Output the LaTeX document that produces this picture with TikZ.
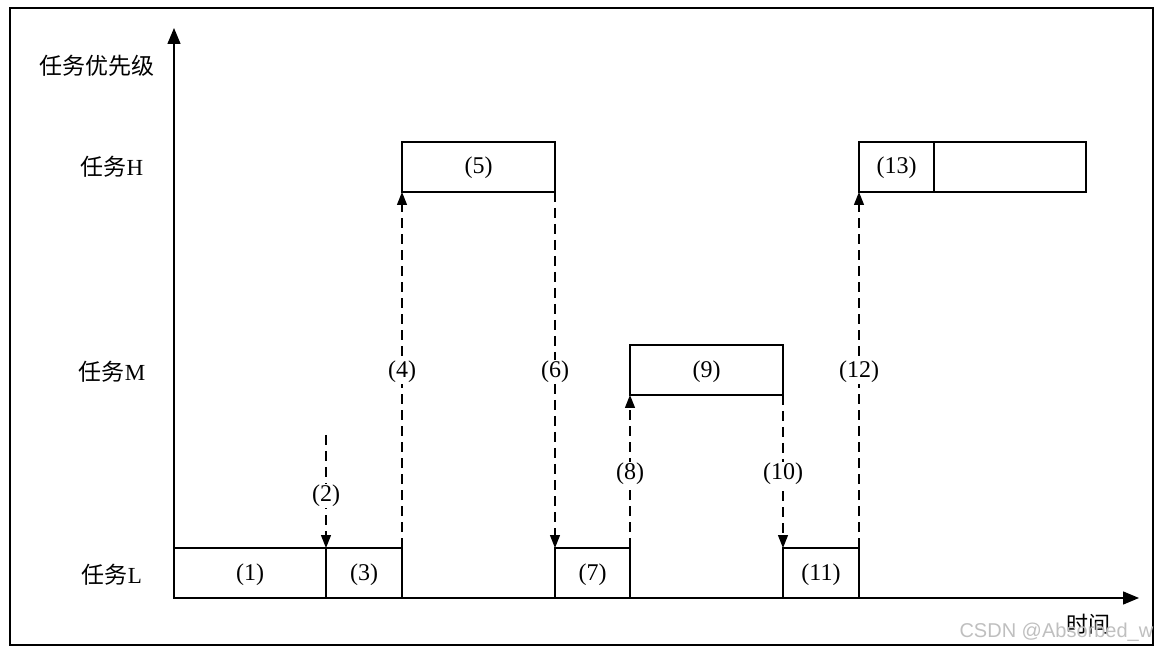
\documentclass[tikz,border=0pt]{standalone}
\usepackage{fontspec}
\setmainfont{Liberation Serif}
\newfontfamily\cjk{Noto Sans CJK SC}
\newfontfamily\wmfont{Liberation Sans}
\usetikzlibrary{arrows.meta}
\begin{document}
\begin{tikzpicture}[x=1pt,y=-1pt,
  tbox/.style={draw, line width=1.4pt, minimum height=50pt, inner sep=0pt, outer sep=0pt},
  blbl/.style={font=\fontsize{24}{26}\selectfont, inner sep=0pt},
  darr/.style={line width=1.3pt, dash pattern=on 10pt off 6pt, -{Triangle[length=13pt,width=10pt]}},
  lbl/.style={fill=white, inner sep=1pt, yshift=-2pt, font=\fontsize{24}{26}\selectfont},
  ylab/.style={font=\fontsize{23}{26}\selectfont, anchor=center},
  axarr/.style={line width=1.5pt, -{Triangle[length=16pt,width=13pt]}}]
\useasboundingbox (0,0) rectangle (1163,652);
\clip (0,0) rectangle (1163,652);
\draw[line width=2pt] (10,8) rectangle (1153,645);
% axes
\coordinate (O) at (174,598);
\coordinate (ytop) at (174,28);
\coordinate (xend) at (1139,598);
\draw[axarr] (O) -- (ytop);
\draw[axarr] (O) -- (xend);
% axis labels
\node[ylab] (lp) at (97,66) {\cjk 任务优先级};
\node[ylab] (lh) at (112,167) {{\cjk 任务}H};
\node[ylab] (lm) at (112,372) {{\cjk 任务}M};
\node[ylab] (ll) at (112,575) {{\cjk 任务}L};
\node[font=\fontsize{22}{24}\selectfont] (lt) at (1088,624) {\cjk 时间};
% boxes
\node[tbox, minimum width=152pt] (b1) at (250,573) {};
\node[tbox, minimum width=76pt] (b3) at (364,573) {};
\node[tbox, minimum width=75pt] (b7) at (592.5,573) {};
\node[tbox, minimum width=76pt] (b11) at (821,573) {};
\node[tbox, minimum width=153pt] (b5) at (478.5,167) {};
\node[tbox, minimum width=75pt] (b13) at (896.5,167) {};
\node[tbox, minimum width=152pt] (b13b) at (1010,167) {};
\node[tbox, minimum width=153pt] (b9) at (706.5,370) {};
% box labels
\node[blbl] (t1) at ([yshift=-2pt]b1.center) {(1)};
\node[blbl] (t3) at ([yshift=-2pt]b3.center) {(3)};
\node[blbl] (t7) at ([yshift=-2pt]b7.center) {(7)};
\node[blbl] (t11) at ([yshift=-2pt]b11.center) {(11)};
\node[blbl] (t5) at ([yshift=-1pt]b5.center) {(5)};
\node[blbl] (t13) at ([yshift=-1pt]b13.center) {(13)};
\node[blbl] (t9) at ([yshift=-2pt]b9.center) {(9)};
% connectors
\coordinate (c2) at (326,435);
\draw[darr] (c2) -- node[lbl, pos=0.52] (t2) {(2)} (b1.north east);
\draw[darr] (b3.north east) -- node[lbl] (t4) {(4)} (b5.south west);
\draw[darr] (b5.south east) -- node[lbl] (t6) {(6)} (b7.north west);
\draw[darr] (b7.north east) -- node[lbl] (t8) {(8)} (b9.south west);
\draw[darr] (b9.south east) -- node[lbl] (t10) {(10)} (b11.north west);
\draw[darr] (b11.north east) -- node[lbl] (t12) {(12)} (b13.south west);
% watermark
\node[anchor=west, text=black!25, font=\wmfont\fontsize{20}{22}\selectfont] (wm) at (956,632) {CSDN @Absorbed\_w};
\end{tikzpicture}
\end{document}
